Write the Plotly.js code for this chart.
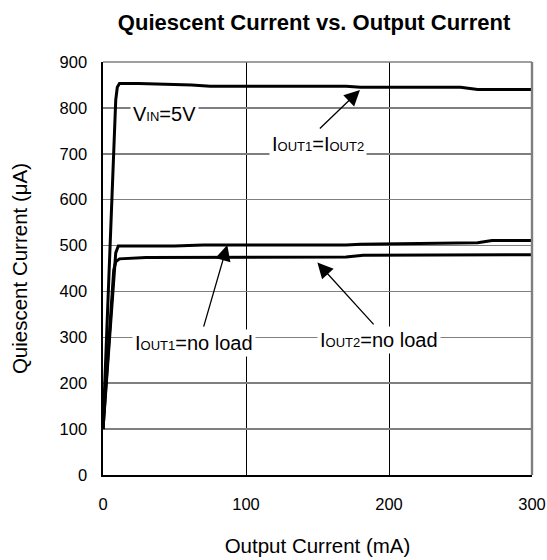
<!DOCTYPE html>
<html>
<head>
<meta charset="utf-8">
<script src="https://cdn.plot.ly/plotly-3.0.1.min.js"></script>
<style>html,body{margin:0;padding:0;background:#fff;}#chart{width:547px;height:560px;}</style>
</head>
<body>
<div id="chart"></div>
<script>
// IOUT1 = IOUT2
const xBoth = [0, 8.9, 10, 11.5, 25, 38, 45, 62, 75, 170, 180, 250, 262, 300];
const yBoth = [100, 817, 845, 853, 853, 852, 852, 850, 847, 847, 845, 845, 840, 840];
// IOUT1 = no load
const xOut1NoLoad = [0, 8.9, 10.7, 50, 70, 170, 180, 255, 262, 272, 300];
const yOut1NoLoad = [100, 484, 499, 499, 501, 501, 503, 505, 506, 511, 511];
// IOUT2 = no load
const xOut2NoLoad = [0, 7.5, 9, 11.5, 30, 135, 170, 182, 300];
const yOut2NoLoad = [100, 447, 465, 471, 474, 475, 475, 479, 480];

const xTicks = [0, 100, 200, 300];
const yTicks = [0, 100, 200, 300, 400, 500, 600, 700, 800, 900];

const FONT = 'Liberation Sans, Arial, Helvetica, sans-serif';
const sm = s => '<span style="font-size:13px">' + s + '</span>';

const lineStyle = {color: '#000', width: 3};
const traces = [
  {x: xBoth, y: yBoth, mode: 'lines', line: lineStyle, name: 'IOUT1=IOUT2', hoverinfo: 'skip'},
  {x: xOut1NoLoad, y: yOut1NoLoad, mode: 'lines', line: lineStyle, name: 'IOUT1=no load', hoverinfo: 'skip'},
  {x: xOut2NoLoad, y: yOut2NoLoad, mode: 'lines', line: lineStyle, name: 'IOUT2=no load', hoverinfo: 'skip'}
];

const labelFont = {family: FONT, size: 20, color: '#000'};
function label(text, x, y) {
  return {text: text, x: x, y: y, xref: 'x', yref: 'y', showarrow: false,
    xanchor: 'center', yanchor: 'middle', bgcolor: '#fff', borderpad: 2, font: labelFont};
}
function arrow(x, y, ax, ay) {
  return {text: '', x: x, y: y, ax: ax, ay: ay, xref: 'x', yref: 'y', axref: 'x', ayref: 'y',
    showarrow: true, arrowhead: 2, arrowsize: 2.4, arrowwidth: 1.3, arrowcolor: '#000', standoff: 0};
}

const layout = {
  width: 547, height: 560,
  margin: {l: 103, r: 15, t: 62, b: 85},
  paper_bgcolor: '#fff', plot_bgcolor: '#fff',
  showlegend: false,
  font: {family: FONT, color: '#000'},
  title: {text: '<b>Quiescent Current vs. Output Current</b>', font: {family: FONT, size: 22, color: '#000'},
    xref: 'paper', x: 0.492, xanchor: 'center', yref: 'container', y: 0.961, yanchor: 'middle'},
  xaxis: {range: [0, 300], tickvals: xTicks, ticktext: xTicks.map(String), ticks: '',
    tickfont: {family: FONT, size: 16.5, color: '#000'}, ticklabelstandoff: 14,
    showgrid: true, gridcolor: '#000', gridwidth: 1, zeroline: false,
    showline: true, linecolor: '#000', linewidth: 1.6, fixedrange: true,
    title: {text: 'Output Current (mA)', font: {family: FONT, size: 20.5, color: '#000'}, standoff: 26}},
  yaxis: {range: [0, 900], tickvals: yTicks, ticktext: yTicks.map(String), ticks: '',
    tickfont: {family: FONT, size: 16.5, color: '#000'}, ticklabelstandoff: 11,
    showgrid: true, gridcolor: '#7f7f7f', gridwidth: 1.6, zeroline: false,
    showline: true, linecolor: '#000', linewidth: 1.6, fixedrange: true,
    title: {text: 'Quiescent Current (μA)', font: {family: FONT, size: 20.5, color: '#000'}, standoff: 26}},
  shapes: [
    {type: 'line', xref: 'paper', yref: 'paper', x0: 0, x1: 1, y0: 1, y1: 1, line: {color: '#7f7f7f', width: 1.6}},
    {type: 'line', xref: 'paper', yref: 'paper', x0: 1, x1: 1, y0: 0, y1: 1, line: {color: '#7f7f7f', width: 2.4}}
  ],
  annotations: [
    label('V' + sm('IN') + '=5V', 42.8, 786),
    label('I' + sm('OUT1') + '=I' + sm('OUT2'), 150.6, 722),
    label('I' + sm('OUT1') + '=no load', 63.7, 287),
    label('I' + sm('OUT2') + '=no load', 193.2, 294),
    arrow(179.7, 839, 150.6, 752),
    arrow(86.9, 501, 70.1, 320),
    arrow(149.9, 463, 190.2, 325)
  ]
};

Plotly.newPlot('chart', traces, layout, {staticPlot: true, displayModeBar: false});
</script>
</body>
</html>
